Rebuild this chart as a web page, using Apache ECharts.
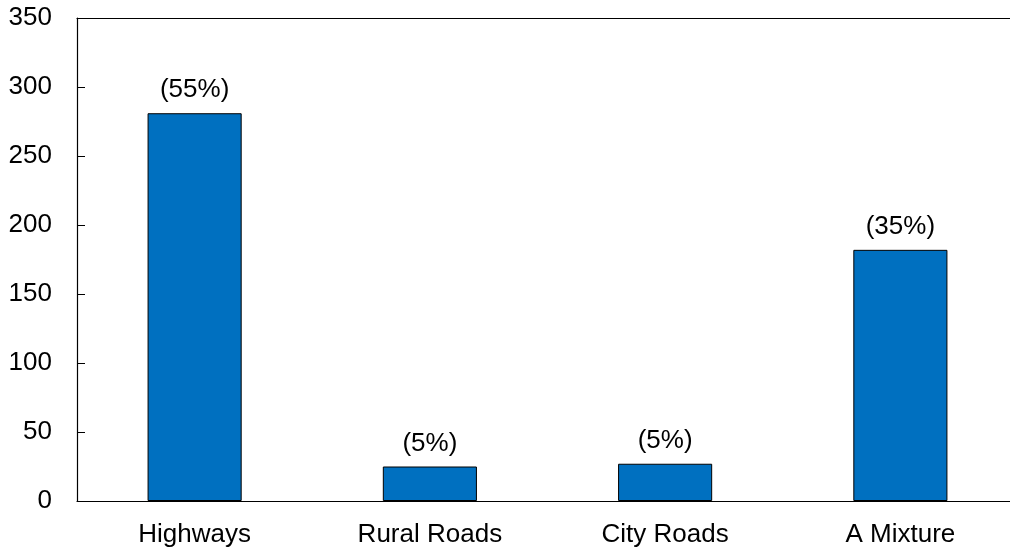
<!DOCTYPE html>
<html>
<head>
<meta charset="utf-8">
<script src="https://cdn.jsdelivr.net/npm/echarts@6/dist/echarts.min.js"></script>
<style>
  html, body { margin: 0; padding: 0; background: #fff; }
  #main { width: 1010px; height: 548px; }
</style>
</head>
<body>
<div id="main"></div>
<script>
var categories = ['Highways', 'Rural Roads', 'City Roads', 'A Mixture'];
var counts = [281, 25, 27, 182];
var shares = ['(55%)', '(5%)', '(5%)', '(35%)'];

var chart = echarts.init(document.getElementById('main'));
var font = 'Liberation Sans, Arial, sans-serif';

var option = {
    backgroundColor: '#fff',
    animation: false,
    grid: { left: 77, width: 941, top: 18, bottom: 47, outerBoundsMode: 'none' },
    xAxis: [{
        type: 'category',
        data: categories,
        axisLine: { show: true, lineStyle: { color: '#000', width: 1.2 } },
        axisTick: { show: false },
        axisLabel: { color: '#000', fontSize: 26, fontFamily: font, margin: 21 }
    }, {
        type: 'category',
        position: 'top',
        data: categories,
        axisLine: { show: true, lineStyle: { color: '#000', width: 1.2 } },
        axisTick: { show: false },
        axisLabel: { show: false }
    }],
    yAxis: {
        type: 'value',
        min: 0,
        max: 350,
        interval: 50,
        axisLine: { show: true, lineStyle: { color: '#000', width: 1.2 } },
        axisTick: { show: true, inside: true, length: 8, lineStyle: { color: '#000' } },
        splitLine: { show: false },
        axisLabel: { color: '#000', fontSize: 26, fontFamily: font, margin: 25 }
    },
    series: [{
        type: 'bar',
        data: counts,
        barWidth: '40%',
        itemStyle: { color: '#0070C0', borderColor: '#000', borderWidth: 1 },
        label: {
            show: true,
            position: 'top',
            distance: 10,
            color: '#000',
            fontSize: 26,
            fontFamily: font,
            formatter: function (p) { return shares[p.dataIndex]; }
        }
    }]
};
chart.setOption(option);
</script>
</body>
</html>
